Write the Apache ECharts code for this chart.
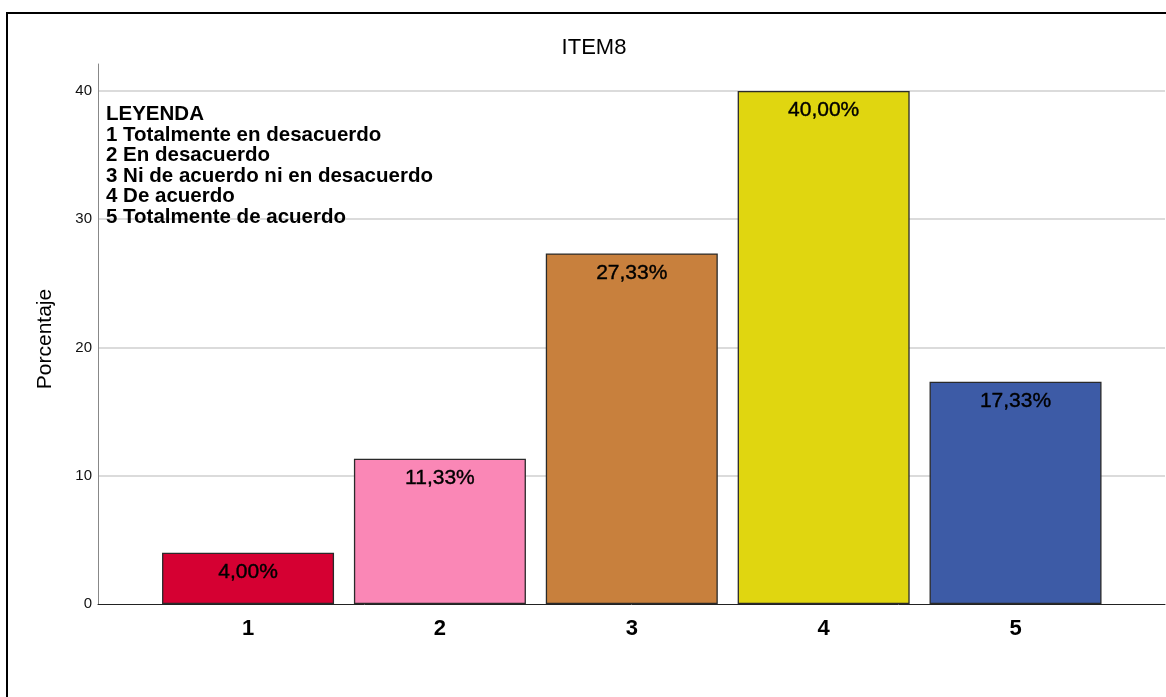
<!DOCTYPE html>
<html>
<head>
<meta charset="utf-8">
<script src="https://cdn.jsdelivr.net/npm/echarts@6/dist/echarts.min.js"></script>
<style>
html,body{margin:0;padding:0;background:#fff;}
#chart{width:1166px;height:697px;}
</style>
</head>
<body>
<div id="chart"></div>
<script>
const categories = ['1', '2', '3', '4', '5'];
const percentages = [4.00, 11.33, 27.33, 40.00, 17.33];
const barColors = ['#d50032', '#fa87b6', '#c8803d', '#e0d610', '#3d5ba6'];
const yTicks = [0, 10, 20, 30, 40];
const chartTitle = 'ITEM8';
const yName = 'Porcentaje';
const legendLines = [
  'LEYENDA',
  '1 Totalmente en desacuerdo',
  '2 En desacuerdo',
  '3 Ni de acuerdo ni en desacuerdo',
  '4 De acuerdo',
  '5 Totalmente de acuerdo'
];

const FONT = '"Liberation Sans", Arial, sans-serif';
const catPositions = categories.map((c, i) => i + 1);

const chart = echarts.init(document.getElementById('chart'), null, {renderer: 'canvas'});
chart.setOption({
  animation: false,
  backgroundColor: '#fff',
  title: [
    {
      text: chartTitle,
      left: 594, top: 37,
      textAlign: 'center',
      padding: 0,
      textStyle: {fontFamily: FONT, fontSize: 22, fontWeight: 'normal', color: '#000'}
    },
    {
      text: legendLines.join('\n'),
      left: 106, top: 104,
      padding: 0,
      textStyle: {fontFamily: FONT, fontSize: 20.5, fontWeight: 'bold', color: '#000', lineHeight: 20.6}
    }
  ],
  graphic: [
    {
      type: 'polyline',
      shape: {points: [[7, 697], [7, 13], [1166, 13]]},
      style: {stroke: '#000', lineWidth: 2, fill: null},
      silent: true
    }
  ],
  grid: {left: 98, right: 1, top: 64, bottom: 93, containLabel: false},
  xAxis: {
    type: 'value',
    min: 0.218,
    max: 5.779,
    axisLine: {show: true, onZero: false, lineStyle: {color: '#222', width: 1}},
    axisTick: {show: false},
    splitLine: {show: false},
    axisLabel: {
      customValues: catPositions,
      formatter: v => categories[Math.round(v) - 1] || '',
      fontFamily: FONT, fontSize: 22, fontWeight: 'bold', color: '#000', margin: 14
    }
  },
  yAxis: {
    type: 'value',
    min: 0,
    max: 42.1,
    interval: 10,
    name: yName,
    nameLocation: 'middle',
    nameGap: 42,
    nameRotate: 90,
    nameTextStyle: {fontFamily: FONT, fontSize: 21, color: '#000', padding: [0, 10, 0, 0]},
    axisLine: {show: true, onZero: false, lineStyle: {color: '#888', width: 1}},
    axisTick: {show: false},
    axisLabel: {
      customValues: yTicks,
      fontFamily: FONT, fontSize: 15, color: '#111', margin: 6
    },
    splitLine: {show: true, showMaxLine: false, showMinLine: false, lineStyle: {color: '#cfcfcf', width: 1.5}}
  },
  series: [{
    type: 'bar',
    barWidth: 172,
    data: percentages.map((v, i) => ({
      value: [catPositions[i], v],
      itemStyle: {color: barColors[i]}
    })),
    itemStyle: {borderColor: '#2a2a2a', borderWidth: 1.3},
    label: {
      show: true,
      position: 'insideTop',
      distance: 9,
      formatter: p => p.value[1].toFixed(2).replace('.', ',') + '%',
      fontFamily: FONT, fontSize: 21, fontWeight: 'normal', color: '#000',
      textBorderColor: '#000', textBorderWidth: 0.4
    }
  }]
});
</script>
</body>
</html>
